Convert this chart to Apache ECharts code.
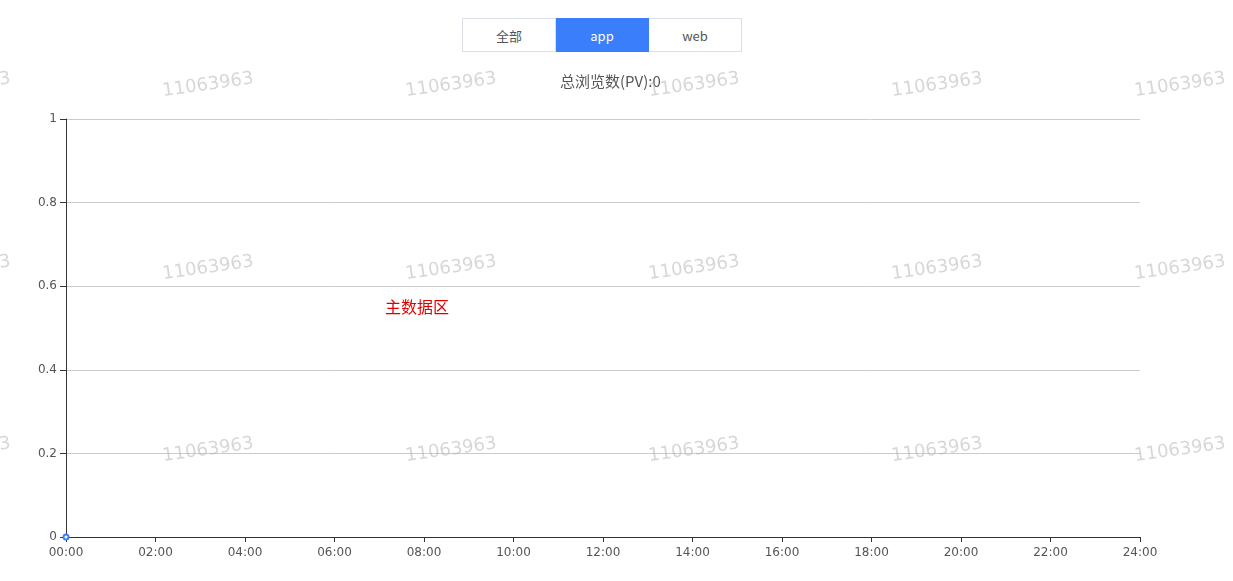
<!DOCTYPE html>
<html>
<head>
<meta charset="utf-8">
<script src="https://cdn.jsdelivr.net/npm/echarts@6/dist/echarts.min.js"></script>
<style>
html,body{margin:0;padding:0;background:#fff;}
#chart{width:1233px;height:581px;position:absolute;left:0;top:0;}
#tabs{position:absolute;left:462px;top:18px;height:34px;display:flex;z-index:10;font-family:"Noto Sans CJK SC","Noto Sans",sans-serif;font-size:13px;}
#tabs div{width:92px;height:32px;line-height:33px;text-align:center;border:1px solid #dcdfe6;color:#555;background:#fff;box-sizing:content-box;}
#tabs div + div{border-left:none;}
#tabs div.on{background:#3a7efc;border-color:#3a7efc;color:#fff;}
</style>
</head>
<body>
<div id="chart"></div>
<div id="tabs"><div>全部</div><div class="on">app</div><div>web</div></div>
<script>
const titleText = '总浏览数(PV):0';
const areaLabel = '主数据区';
const watermarkText = '11063963';
const hours = [0];
const pvValues = [0];
const yTicks = [0, 0.2, 0.4, 0.6, 0.8, 1];

const chart = echarts.init(document.getElementById('chart'));
const wm = [];
const cols = [-35, 208, 451, 694, 937, 1180];
const rows = [85, 268, 450];
rows.forEach(function(y){ cols.forEach(function(x){
  wm.push({type:'text', x:x, y:y, rotation: 8*Math.PI/180, z:100, silent:true,
    style:{text:watermarkText, fill:'rgba(175,175,175,0.5)', font:'18px "DejaVu Sans", sans-serif', textAlign:'center', textVerticalAlign:'middle'}});
});});
wm.push({type:'text', left:385, top:299, z:50, style:{text:areaLabel, fill:'#e00000', font:'16px "Noto Sans CJK SC", sans-serif'}});

chart.setOption({
  animation:false,
  textStyle:{fontFamily:'"DejaVu Sans","Noto Sans CJK SC",sans-serif'},
  title:{text:titleText, left:555, top:69, textStyle:{fontSize:15, fontWeight:'normal', color:'#555', fontFamily:'"Noto Sans CJK SC",sans-serif'}},
  grid:{left:66, right:93, top:119, bottom:44},
  xAxis:{type:'value', min:0, max:24, interval:2,
    axisLine:{lineStyle:{color:'#333'}},
    axisTick:{show:true, length:5, lineStyle:{color:'#333'}},
    splitLine:{show:false},
    axisLabel:{color:'#555', fontSize:12, margin:10, formatter:function(v){return (v<10?'0':'')+v+':00';}}},
  yAxis:{type:'value', min:yTicks[0], max:yTicks[yTicks.length-1], interval:0.2,
    axisLine:{show:true, lineStyle:{color:'#333'}},
    axisTick:{show:true, length:6, lineStyle:{color:'#333'}},
    splitLine:{lineStyle:{color:'#ccc'}},
    axisLabel:{color:'#555', fontSize:12, margin:9}},
  graphic:wm,
  series:[{type:'line', data:hours.map(function(h,i){return [h,pvValues[i]];}),
    symbol:'emptyCircle', symbolSize:5, showSymbol:true,
    itemStyle:{color:'#3a7efc'}, lineStyle:{color:'#3a7efc'}}]
});
</script>
</body>
</html>
